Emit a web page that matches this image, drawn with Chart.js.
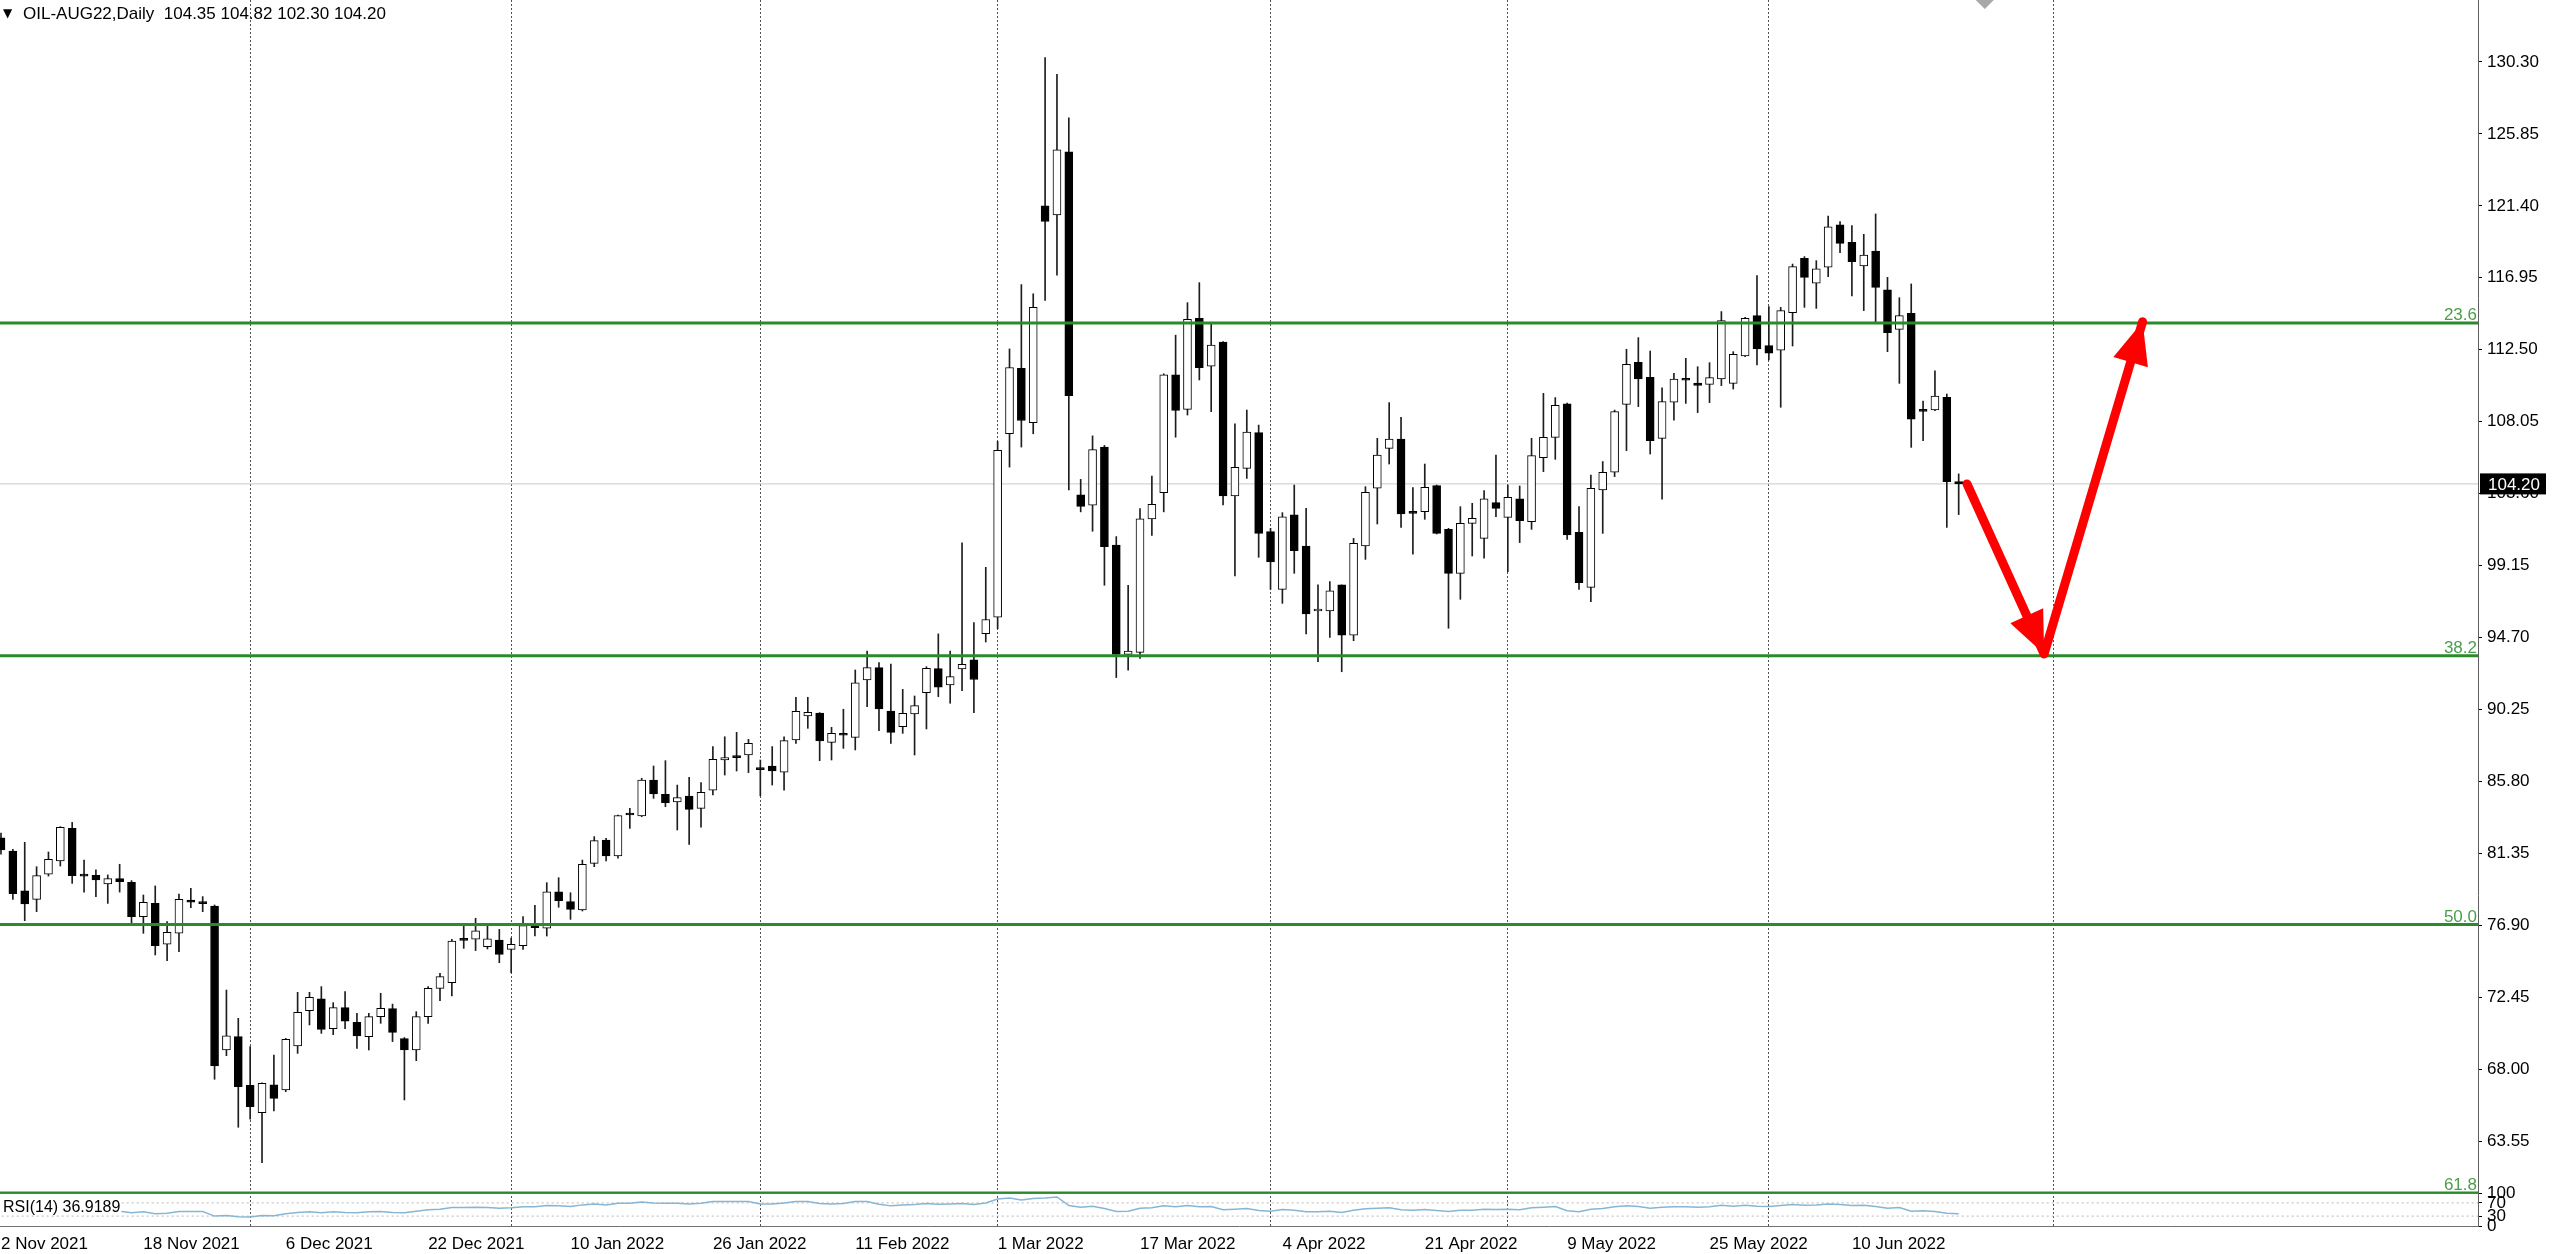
<!DOCTYPE html>
<html>
<head>
<meta charset="utf-8">
<title>OIL-AUG22 Daily</title>
<script src="https://cdn.jsdelivr.net/npm/chart.js@4.4.1/dist/chart.umd.min.js"></script>
<style>
  html, body { margin: 0; padding: 0; background: #fff; }
</style>
</head>
<body>
<canvas id="chart" width="2560" height="1254"></canvas>
<script>
const symbolName = "OIL-AUG22,Daily";

// daily candles, one per trading day from 2 Nov 2021
const opens = [82.31,81.49,79.02,78.50,80.05,80.87,82.89,79.98,79.99,79.45,
  79.78,79.55,77.43,78.25,75.72,76.40,78.46,78.30,78.09,69.18,
  70.01,66.99,65.30,67.02,66.71,69.43,71.61,72.34,70.50,71.80,
  70.89,70.01,71.24,71.74,69.88,69.18,71.24,72.99,73.35,75.99,
  76.03,75.57,75.98,75.41,75.63,76.91,76.71,78.97,78.36,77.84,
  80.73,82.17,81.18,83.75,83.66,85.88,85.00,84.52,84.89,84.13,
  85.26,87.12,87.35,87.43,86.56,86.75,86.36,88.36,89.84,90.03,
  88.21,88.73,88.52,92.07,92.83,90.15,89.18,89.97,91.29,92.77,
  91.76,92.75,93.31,94.93,95.96,107.30,111.35,107.99,121.40,120.84,
  124.74,103.53,102.89,106.48,100.42,93.65,93.78,102.04,103.65,110.94,
  108.81,114.44,111.49,112.98,103.45,105.16,107.37,101.25,97.68,102.28,
  100.36,96.34,96.34,97.95,94.85,100.36,103.93,106.40,106.98,102.44,
  102.48,104.09,101.39,98.67,101.76,100.83,103.04,102.13,103.27,101.86,
  105.82,107.08,109.16,101.20,97.80,103.82,104.92,109.12,111.72,110.79,
  107.02,109.25,110.67,110.44,110.36,110.69,110.42,112.11,114.61,112.75,
  112.48,114.79,118.16,116.61,117.60,120.22,119.14,117.68,118.61,116.20,
  113.76,114.75,108.77,108.77,109.56,104.35];
const highs = [82.60,81.59,82.03,80.52,81.43,83.00,83.26,80.93,80.32,80.01,
  80.67,79.66,78.77,79.33,77.12,78.83,79.18,78.67,78.15,72.89,
  71.14,69.39,67.15,68.87,69.90,72.75,72.75,73.10,72.11,72.79,
  71.45,71.45,72.69,72.02,69.95,71.55,73.10,73.92,76.03,76.95,
  77.33,76.97,76.64,76.10,77.43,78.13,79.53,79.84,78.91,80.93,
  82.38,82.27,83.72,84.13,85.99,86.75,87.08,85.57,86.05,85.72,
  87.95,88.56,88.83,88.40,87.12,87.95,88.56,91.00,91.00,90.05,
  89.14,90.26,92.69,93.86,93.14,93.06,91.49,91.08,92.89,94.92,
  93.86,100.55,95.62,99.04,106.83,112.55,116.53,115.96,130.58,129.53,
  126.84,104.48,107.17,106.58,100.94,97.93,102.68,104.68,111.01,113.40,
  115.41,116.65,114.13,113.00,107.91,108.77,107.84,101.45,102.42,104.13,
  102.69,97.95,98.15,97.95,100.83,104.03,107.02,109.23,108.32,103.97,
  105.43,104.13,101.45,102.79,103.00,103.78,105.99,104.13,104.07,107.02,
  109.80,109.54,109.20,102.79,104.75,105.58,108.77,112.53,113.25,112.42,
  110.15,111.04,111.97,111.45,111.70,114.86,112.38,114.50,117.08,115.17,
  115.12,117.80,118.26,118.01,120.77,120.42,120.18,119.64,120.90,116.98,
  115.72,116.57,109.33,111.19,109.76,104.82];
const lows = [81.30,78.50,77.18,77.74,79.94,80.56,79.49,78.95,78.67,78.25,
  78.95,76.91,76.40,75.06,74.71,75.26,77.99,77.74,67.37,68.83,
  64.40,64.90,62.21,65.41,66.60,68.97,70.73,70.21,70.13,70.50,
  69.28,69.18,70.83,69.70,66.09,68.52,70.83,72.23,72.52,75.47,
  75.33,75.43,74.58,73.96,75.41,76.23,76.23,78.01,77.26,77.78,
  80.52,80.87,81.04,82.89,83.61,84.75,84.23,82.79,81.90,82.96,
  84.96,86.19,86.44,86.34,84.90,85.57,85.26,88.15,89.08,87.08,
  87.12,87.84,87.74,90.42,88.94,88.15,88.77,87.43,89.04,91.04,
  90.63,91.41,90.05,94.42,95.24,105.24,106.48,107.30,115.55,117.12,
  103.83,102.47,101.27,97.93,92.22,92.68,93.40,101.01,102.47,107.09,
  108.46,110.63,108.67,102.90,98.50,104.54,99.66,97.68,96.81,98.67,
  94.92,93.20,94.71,92.58,94.50,99.53,101.72,105.43,101.51,99.86,
  102.01,101.10,95.27,97.06,99.74,99.60,102.17,98.77,100.57,101.39,
  104.96,105.72,100.77,97.68,96.92,101.14,104.65,106.26,108.98,106.05,
  103.25,108.15,109.18,108.61,109.23,110.28,110.07,112.07,111.56,111.87,
  108.94,112.73,115.12,115.06,117.02,118.51,115.83,114.92,114.18,112.38,
  110.42,106.46,106.88,108.73,101.51,102.30];
const closes = [81.55,78.85,78.21,79.97,80.98,82.96,79.97,79.94,79.70,79.78,
  79.59,77.43,78.32,75.64,76.46,78.50,78.32,78.24,68.19,70.05,
  66.91,65.68,67.12,66.19,69.84,71.51,72.44,70.46,71.80,70.97,
  70.05,71.24,71.76,70.27,69.18,71.24,72.99,73.72,75.92,75.96,
  76.56,76.05,75.10,75.72,76.87,76.75,78.97,78.42,77.88,80.67,
  82.13,81.18,83.68,83.72,85.88,85.02,84.48,84.79,84.07,85.12,
  87.16,87.27,87.27,88.15,86.52,86.44,88.32,90.13,90.07,88.30,
  88.77,88.65,91.90,92.83,90.28,88.83,90.01,90.48,92.79,91.62,
  92.28,93.04,92.10,95.81,106.27,111.40,108.12,115.12,120.43,124.86,
  109.66,102.81,106.32,100.32,93.65,93.86,102.04,102.94,110.94,108.75,
  114.38,111.39,112.79,103.45,105.23,107.41,101.14,99.37,102.17,100.07,
  96.15,96.44,97.58,94.85,100.52,103.68,105.99,106.98,102.34,102.38,
  103.99,101.14,98.67,101.76,102.07,103.27,102.69,103.37,101.93,105.95,
  107.08,109.06,101.04,98.09,103.93,104.92,108.67,111.60,110.69,106.88,
  109.29,110.69,110.61,110.30,110.77,114.30,112.22,114.44,112.55,112.28,
  114.92,117.64,116.98,117.50,120.11,119.08,117.95,118.36,116.36,113.56,
  114.61,108.20,108.69,109.64,104.34,104.20];

// RSI(14)
const rsiValues = [50,45,43,47,50,55,47,47,46,45,
  45,40,43,37,39,44,44,44,30,32,
  28,27,32,31,37,41,43,40,43,41,
  40,43,44,41,40,45,49,51,56,56,
  57,56,54,55,58,58,62,61,59,64,
  67,64,69,69,73,70,69,69,67,69,
  74,74,74,74,67,67,70,74,74,68,
  67,68,74,74,66,61,64,65,68,66,
  67,68,65,70,82,85,79,83,85,88,
  62,57,60,53,44,45,54,55,61,58,
  62,58,59,49,51,53,47,45,50,48,
  43,43,45,41,48,52,54,55,49,48,
  50,47,44,48,48,51,50,51,49,55,
  57,59,46,43,51,53,58,61,59,54,
  57,58,58,57,58,63,60,63,60,59,
  62,65,63,64,67,65,62,63,59,54,
  56,45,46,44,39,36.9189];

const dateLabels = ["2 Nov 2021","18 Nov 2021","6 Dec 2021","22 Dec 2021","10 Jan 2022","26 Jan 2022",
  "11 Feb 2022","1 Mar 2022","17 Mar 2022","4 Apr 2022","21 Apr 2022","9 May 2022","25 May 2022","10 Jun 2022"];
const dateLabelIndex = [0,12,24,36,48,60,72,84,96,108,120,132,144,156];
const monthStartIndex = [21,43,64,84,107,127,149,173];
const priceTicks = [130.30,125.85,121.40,116.95,112.50,108.05,103.60,99.15,94.70,90.25,85.80,81.35,76.90,72.45,68.00,63.55];
const rsiTicks = [0,30,70,100];
const rsiLevels = [30,70];
const fibLevels = [114.15,93.57,76.94,60.33];
const fibNames = ["23.6","38.2","50.0","61.8"];
// hand drawn arrows (bar index, price)
const arrowIndex = [165.7,172.2,180.5];
const arrowPrice = [104.20,93.68,114.23];
const shiftIndex = 167.2;

// visible window
const viewFirst = -0.084, viewLast = 208.77;
const priceMin = 60.334, priceMax = 134.135;

const FONT = "'Liberation Sans', Arial, sans-serif";
Chart.defaults.font.family = FONT;
Chart.defaults.font.size = 17;
Chart.defaults.color = "#000";

const lastClose = closes[closes.length - 1];
const bodies = opens.map((o, i) => ({x: i, y: [o, closes[i]]}));
const wicks = highs.map((h, i) => ({x: i, y: [lows[i], h]}));
const bodyColors = opens.map((o, i) => closes[i] >= o ? "#ffffff" : "#000000");

const hLine = (value, axis, color, width, dash, order) => ({
  type: "line", yAxisID: axis,
  data: [{x: -5, y: value}, {x: 215, y: value}],
  borderColor: color, borderWidth: width, borderDash: dash,
  pointRadius: 0, order: order
});

const datasets = [
  hLine(lastClose, "y", "#c8c8c8", 1, [], 20),
  {type: "bar", yAxisID: "y", data: wicks, backgroundColor: "#1e1e1e",
   barThickness: 1, maxBarThickness: 1, grouped: false, order: 12},
  {type: "bar", yAxisID: "y", data: bodies, backgroundColor: bodyColors,
   borderColor: "#000", borderWidth: 1, borderSkipped: false, minBarLength: 2,
   barThickness: 8, maxBarThickness: 8, grouped: false, order: 11}
];
fibLevels.forEach(v => datasets.push(hLine(v, "y", "#2b8a2b", 3, [], 5)));
datasets.push({
  type: "line", yAxisID: "y",
  data: arrowIndex.map((x, i) => ({x: x, y: arrowPrice[i]})),
  borderColor: "#ff0000", borderWidth: 9, borderCapStyle: "round", borderJoinStyle: "round",
  pointRadius: 0, order: 1
});
rsiLevels.forEach(v => datasets.push(hLine(v, "yRsi", "#b8b8b8", 1, [2, 3], 6)));
datasets.push(hLine(100, "yRsi", "#6e6e6e", 2, [], 6));
datasets.push({
  type: "line", yAxisID: "yRsi",
  data: rsiValues.map((v, i) => ({x: i, y: v})),
  borderColor: "#86b6d4", borderWidth: 1.5, pointRadius: 0, order: 2
});

// texts and arrow heads drawn on top
const overlay = {
  id: "overlay",
  afterDatasetsDraw(chart) {
    const ctx = chart.ctx, xs = chart.scales.x, ys = chart.scales.y;
    ctx.save();
    ctx.fillStyle = "#ff0000";
    for (let k = 1; k < arrowIndex.length; k++) {
      const x0 = xs.getPixelForValue(arrowIndex[k - 1]), y0 = ys.getPixelForValue(arrowPrice[k - 1]);
      const x1 = xs.getPixelForValue(arrowIndex[k]), y1 = ys.getPixelForValue(arrowPrice[k]);
      const a = Math.atan2(y1 - y0, x1 - x0);
      const len = 42, half = 18;
      const bx = x1 - len * Math.cos(a), by = y1 - len * Math.sin(a);
      ctx.beginPath();
      ctx.moveTo(x1, y1);
      ctx.lineTo(bx + half * Math.sin(a), by - half * Math.cos(a));
      ctx.lineTo(bx - half * Math.sin(a), by + half * Math.cos(a));
      ctx.closePath();
      ctx.fill();
    }
    ctx.restore();
  },
  afterDraw(chart) {
    const ctx = chart.ctx, xs = chart.scales.x, ys = chart.scales.y, yr = chart.scales.yRsi;
    const area = chart.chartArea;
    ctx.save();

    // symbol header
    ctx.fillStyle = "#000";
    ctx.textBaseline = "alphabetic";
    ctx.textAlign = "left";
    ctx.font = "12px 'DejaVu Sans'";
    ctx.fillText("\u25BC", 3, 17);
    ctx.font = "17px " + FONT;
    const last = opens.length - 1;
    ctx.fillText(symbolName + "  " + opens[last].toFixed(2) + " " + highs[last].toFixed(2) + " " +
      lows[last].toFixed(2) + " " + closes[last].toFixed(2), 23, 19);

    // fibo level names
    ctx.fillStyle = "#4a9e4a";
    ctx.textAlign = "right";
    fibLevels.forEach((v, i) => ctx.fillText(fibNames[i], area.right - 1, ys.getPixelForValue(v) - 3));

    // current price box
    const py = ys.getPixelForValue(lastClose);
    ctx.fillStyle = "#000";
    ctx.fillRect(ys.left + 2, py - 10.5, 66, 21);
    ctx.fillStyle = "#fff";
    ctx.textAlign = "left";
    ctx.textBaseline = "middle";
    ctx.fillText(lastClose.toFixed(2), ys.left + 10, py + 1);

    // indicator name
    ctx.font = "16px " + FONT;
    const rsiText = "RSI(14) " + rsiValues[rsiValues.length - 1].toFixed(4);
    const w = ctx.measureText(rsiText).width;
    ctx.fillStyle = "#fff";
    ctx.fillRect(0, yr.top + 3, w + 4, 18);
    ctx.fillStyle = "#000";
    ctx.textBaseline = "alphabetic";
    ctx.fillText(rsiText, 3, yr.top + 19);

    // chart shift marker
    const sx = xs.getPixelForValue(shiftIndex);
    ctx.fillStyle = "#a8a8a8";
    ctx.beginPath();
    ctx.moveTo(sx - 9, area.top);
    ctx.lineTo(sx + 9, area.top);
    ctx.lineTo(sx, area.top + 9);
    ctx.closePath();
    ctx.fill();
    ctx.restore();
  }
};

const fitX = h => s => { s.height = h; s.paddingLeft = 0; s.paddingRight = 0; };
const fitY = s => { s.width = 82; s.paddingTop = 0; s.paddingBottom = 0; };

new Chart(document.getElementById("chart"), {
  type: "bar",
  data: {datasets: datasets},
  options: {
    responsive: false,
    animation: false,
    devicePixelRatio: 1,
    layout: {padding: 0},
    plugins: {legend: {display: false}, tooltip: {enabled: false}},
    scales: {
      x: {
        type: "linear", position: "bottom", min: viewFirst, max: viewLast,
        offset: false, bounds: "data",
        grid: {display: false, drawTicks: false, offset: false},
        border: {display: true, color: "#707070", width: 1},
        ticks: {autoSkip: false, maxRotation: 0, align: "start", padding: 8,
          callback: (v, i) => dateLabels[i]},
        afterBuildTicks: s => { s.ticks = dateLabelIndex.map(v => ({value: v})); },
        afterFit: fitX(28)
      },
      xGrid: {
        type: "linear", position: "bottom", min: viewFirst, max: viewLast,
        offset: false, bounds: "data",
        grid: {display: true, drawTicks: false, offset: false, color: "#505050", lineWidth: 1},
        border: {display: false, dash: [2, 2]},
        ticks: {display: false},
        afterBuildTicks: s => { s.ticks = monthStartIndex.map(v => ({value: v})); },
        afterFit: fitX(0)
      },
      y: {
        type: "linear", position: "right", stack: "panes", stackWeight: 1193,
        min: priceMin, max: priceMax, bounds: "data",
        grid: {display: true, drawOnChartArea: false, drawTicks: true, tickLength: 4, color: "#000"},
        border: {display: true, color: "#606060", width: 1},
        ticks: {autoSkip: false, padding: 5, callback: v => v.toFixed(2)},
        afterBuildTicks: s => { s.ticks = priceTicks.map(v => ({value: v})); },
        afterFit: fitY
      },
      yRsi: {
        type: "linear", position: "right", stack: "panes", stackWeight: 33,
        min: 0, max: 100, bounds: "data",
        grid: {display: true, drawOnChartArea: false, drawTicks: true, tickLength: 4, color: "#000"},
        border: {display: true, color: "#606060", width: 1},
        ticks: {autoSkip: false, padding: 5, callback: v => String(v)},
        afterBuildTicks: s => { s.ticks = rsiTicks.map(v => ({value: v})); },
        afterFit: fitY
      }
    }
  },
  plugins: [overlay]
});
</script>
</body>
</html>
